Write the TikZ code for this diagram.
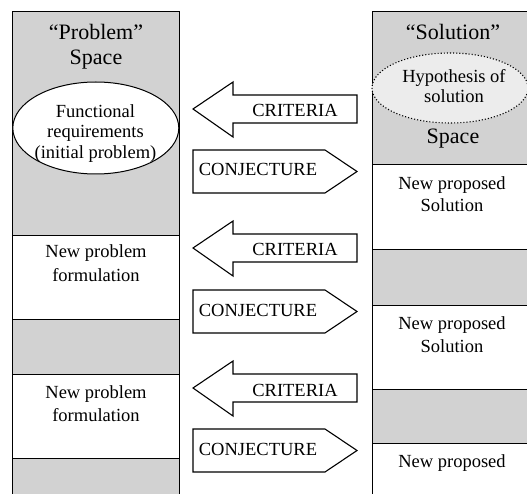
\documentclass[tikz,border=0pt]{standalone}
\usepackage{fontspec}
\setmainfont{Liberation Serif}
\begin{document}
\begin{tikzpicture}[x=1pt,y=-1pt,
  shaded/.style={fill=gray!35, draw=black, line width=0.9pt},
  plain/.style={fill=white, draw=black, line width=0.9pt},
  arrowbox/.style={fill=white, draw=black, line width=1.1pt, line join=miter},
  lbl/.style={font=\fontsize{18.5}{22}\selectfont, anchor=base, inner sep=0pt},
  ttl/.style={font=\fontsize{22}{26}\selectfont, anchor=base, inner sep=0pt}]
\clip (0,0) rectangle (527,494);
\fill[white] (0,0) rectangle (527,494);

% Problem column
\draw[shaded] (12.7,11) rectangle (179,235);
\draw[plain]  (12.7,235) rectangle (179,319);
\draw[shaded] (12.7,319) rectangle (179,374);
\draw[plain]  (12.7,374) rectangle (179,458);
\draw[shaded] (12.7,458) rectangle (179,500);

% Solution column
\draw[shaded] (372,11) rectangle (530,164);
\draw[plain]  (372,164) rectangle (530,249);
\draw[shaded] (372,249) rectangle (530,305);
\draw[plain]  (372,305) rectangle (530,389);
\draw[shaded] (372,389) rectangle (530,443);
\draw[plain]  (372,443) rectangle (530,500);

% ellipses
\draw[line width=1pt, fill=white] (95.8,128) ellipse [x radius=83, y radius=46];
\draw[dotted, line width=1.1pt, fill=gray!15] (450,88) ellipse [x radius=78, y radius=35];

% titles
\node[ttl] (ptitle) at (96,40) {“Problem”};
\node[ttl] (pspace) at (96,65) {Space};
\node[ttl] (stitle) at (453,40) {“Solution”};
\node[ttl] (sspace) at (453,144) {Space};

% ellipse texts
\node[lbl] (fr1) at (95.5,118) {Functional};
\node[lbl] (fr2) at (95.5,138) {requirements};
\node[lbl] (fr3) at (95.5,159) {(initial problem)};
\node[lbl] (hy1) at (454,83) {Hypothesis of};
\node[lbl] (hy2) at (454,103) {solution};

% problem column texts
\node[lbl] (np1a) at (96,258) {New problem};
\node[lbl] (np1b) at (96,281) {formulation};
\node[lbl] (np2a) at (96,398) {New problem};
\node[lbl] (np2b) at (96,421) {formulation};

% solution column texts
\node[lbl] (ns1a) at (452,190) {New proposed};
\node[lbl] (ns1b) at (452,212) {Solution};
\node[lbl] (ns2a) at (452,329) {New proposed};
\node[lbl] (ns2b) at (452,352) {Solution};
\node[lbl] (ns3a) at (452,467) {New proposed};

% CRITERIA arrows (pointing left)
\foreach \d [count=\i] in {0,139,279} {
  \draw[arrowbox] (193,109+\d) -- (233,82+\d) -- (233,95+\d) -- (357,95+\d)
     -- (357,123+\d) -- (233,123+\d) -- (233,137+\d) -- cycle;
  \node[lbl] (crit\i) at (295,117+\d) {CRITERIA};
}
% CONJECTURE arrows (pointing right)
\foreach \d [count=\i] in {0,140,279} {
  \draw[arrowbox] (193,150+\d) -- (325,150+\d) -- (357,171.5+\d)
     -- (325,193+\d) -- (193,193+\d) -- cycle;
  \node[lbl] (conj\i) at (258,176+\d) {CONJECTURE};
}
\end{tikzpicture}
\end{document}
